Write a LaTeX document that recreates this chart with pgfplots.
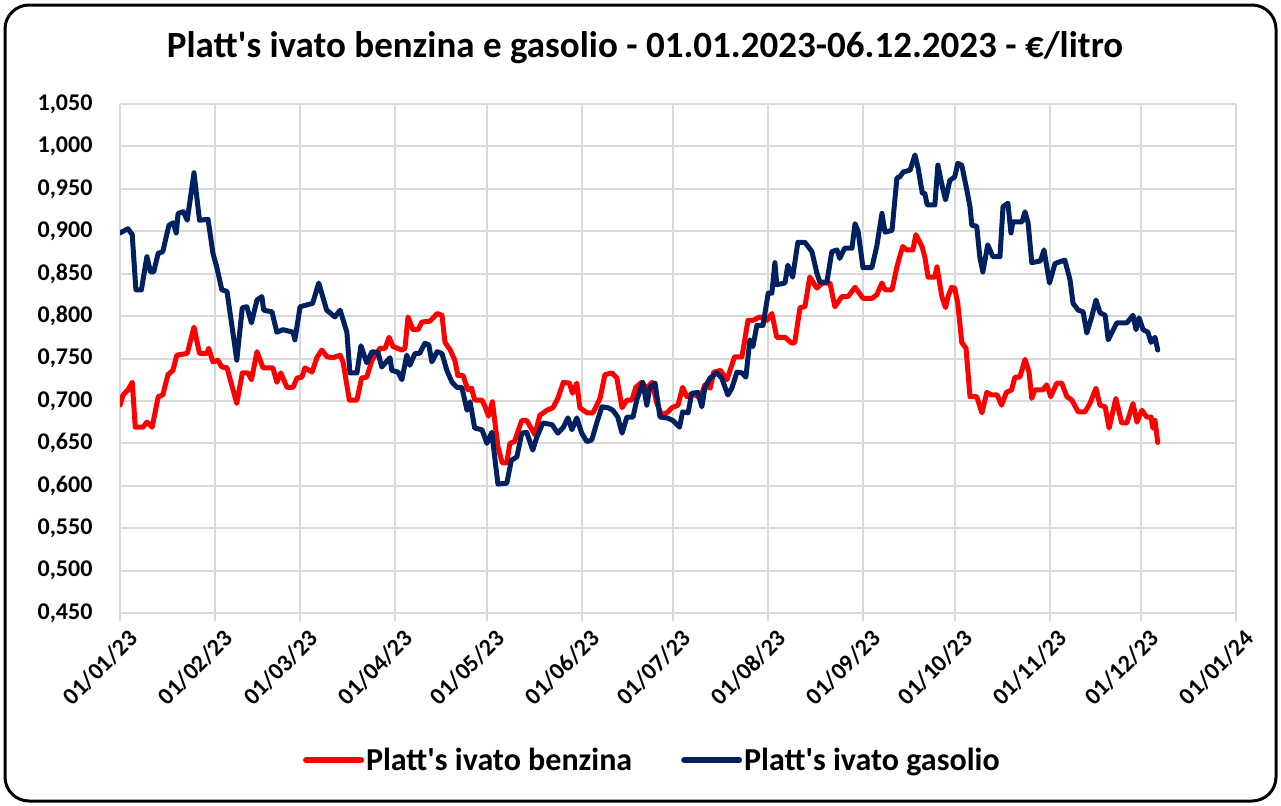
\documentclass[border=0pt]{standalone}
\usepackage{fontspec}
\setmainfont{Carlito}[Ligatures=TeXOff]
\usepackage{pgfplots}
\pgfplotsset{compat=1.18}
\definecolor{benz}{RGB}{255,0,0}
\definecolor{gaso}{RGB}{0,32,96}
\definecolor{gridc}{RGB}{217,217,217}
\newcommand\fs[1]{\fontsize{#1bp}{#1bp}\selectfont\bfseries}
\begin{document}
\begin{tikzpicture}
\useasboundingbox (0bp,0bp) rectangle (1281bp,-806bp);
\draw[line width=3bp, rounded corners=24bp] (5bp,-5bp) rectangle (1276bp,-801bp);
\node[font=\fs{37}] at (645bp,-48bp) {Platt's ivato benzina e gasolio - 01.01.2023-06.12.2023 - €/litro};
\begin{axis}[
  at={(120bp,-613bp)}, anchor=south west,
  scale only axis, width=1116bp, height=509bp,
  xmin=0, xmax=365, ymin=0.45, ymax=1.05,
  xtick={0,31,59,90,120,151,181,212,243,273,304,334,365},
  xticklabels={01/01/23,01/02/23,01/03/23,01/04/23,01/05/23,01/06/23,01/07/23,01/08/23,01/09/23,01/10/23,01/11/23,01/12/23,01/01/24},
  ytick={0.45,0.5,...,1.06},
  yticklabel style={/pgf/number format/fixed, /pgf/number format/fixed zerofill, /pgf/number format/precision=3, /pgf/number format/use comma, /pgf/number format/assume math mode=true},
  yticklabel style={font=\fs{24}, xshift=-16bp},
  xticklabel style={font=\fs{24}, rotate=45, anchor=north east, inner sep=2bp, yshift=-8bp, xshift=2bp},
  axis line style={draw=none},
  grid=major, major grid style={draw=gridc, line width=2bp},
  xtick pos=lower, ytick pos=left,
  tick align=outside, major tick length=8bp,
  xtick style={draw=gridc, line width=2bp}, ytick style={draw=none},
  legend columns=2,
  legend style={at={(0.477,-0.289)}, anchor=center, draw=none, fill=none, font=\fs{32},
    /tikz/every even column/.append style={column sep=47bp}},
  legend image code/.code={\draw[#1, line width=6bp] (0bp,0bp) -- (55bp,0bp);},
  every axis plot/.append style={line width=5bp, line join=round, line cap=round},
]
\addplot[benz, mark=none] coordinates {
(0,0.695)(1,0.707)(2.6,0.713)(4,0.722)(5,0.669)(7.5,0.669)(8.8,0.675)(10.5,0.669)(12.5,0.705)(14,0.707)
(15.7,0.731)(17.3,0.736)(18.6,0.754)(22,0.756)(24.2,0.787)(26,0.756)(28.4,0.756)(29,0.762)(30.4,0.746)(32,0.748)
(33.3,0.740)(35,0.739)(38.2,0.697)(40,0.733)(41.9,0.733)(43,0.725)(44.8,0.758)(46.8,0.739)(50,0.739)(51.3,0.722)
(52.6,0.733)(54.6,0.716)(56.6,0.716)(57.9,0.727)(59.5,0.728)(60.5,0.739)(62.8,0.734)(64.4,0.751)(66,0.760)(67.7,0.752)
(69.7,0.751)(72,0.754)(73,0.745)(75,0.701)(77.5,0.701)(79,0.727)(80.7,0.728)(82.4,0.748)(85,0.762)(86.7,0.762)
(88,0.775)(89.3,0.764)(92.2,0.760)(93.2,0.762)(94.2,0.799)(95.8,0.784)(97.5,0.784)(98.7,0.793)(101.4,0.794)(103.7,0.803)
(105.3,0.801)(106.3,0.769)(108,0.760)(109.5,0.748)(110.5,0.730)(112.2,0.730)(113.8,0.713)(115,0.715)(116,0.701)(118.4,0.701)
(119.4,0.693)(120.5,0.682)(121.8,0.699)(123.6,0.646)(125,0.627)(126.5,0.627)(127.5,0.650)(129,0.652)(131.4,0.677)(133,0.677)
(135.7,0.660)(137.3,0.683)(139.6,0.689)(141.6,0.692)(143.2,0.703)(145,0.722)(147,0.721)(148,0.709)(149.4,0.721)(150.4,0.692)
(152.7,0.686)(154.7,0.686)(157,0.703)(158.6,0.731)(160.9,0.733)(162.5,0.727)(164.2,0.692)(165.8,0.701)(167.4,0.701)(168.7,0.716)
(170.6,0.722)(172.3,0.715)(174,0.722)(175.6,0.697)(177.2,0.683)(179.2,0.687)(180.5,0.692)(182.5,0.695)(184,0.716)(185.4,0.705)
(187.4,0.709)(189.7,0.703)(191.3,0.719)(193,0.715)(194.2,0.734)(196.4,0.736)(198.5,0.725)(201,0.752)(203.4,0.752)(205.4,0.795)
(207,0.795)(209.3,0.799)(211.6,0.795)(213.2,0.803)(214.8,0.775)(217.5,0.775)(219.7,0.768)(220.7,0.769)(222.4,0.810)(224,0.811)
(225.6,0.846)(227.9,0.833)(229.8,0.839)(232.2,0.839)(233.8,0.811)(236.1,0.823)(238.1,0.823)(240.4,0.834)(243,0.821)(246,0.821)
(247.5,0.825)(249.2,0.839)(250.2,0.831)(252.5,0.831)(254.1,0.858)(255,0.870)(256,0.882)(257.3,0.878)(259.3,0.878)(260.3,0.896)
(262.3,0.882)(263.2,0.870)(264.3,0.846)(266.5,0.846)(267.2,0.858)(268.8,0.823)(270,0.810)(270.8,0.823)(272,0.834)(273,0.833)
(274,0.815)(275.3,0.769)(276.7,0.762)(278,0.705)(280.2,0.705)(281.9,0.686)(283.5,0.710)(285.1,0.707)(286.9,0.707)(288.3,0.695)
(289.9,0.710)(291.6,0.713)(292.7,0.728)(294.3,0.728)(296,0.749)(297.3,0.734)(298.2,0.703)(299.2,0.713)(301.8,0.713)(303.1,0.719)
(304.4,0.705)(306.4,0.721)(308,0.721)(309.7,0.705)(311.3,0.701)(313.4,0.687)(315.6,0.687)(317.2,0.697)(319.2,0.715)(320.5,0.695)
(322.2,0.693)(323.5,0.668)(325.7,0.703)(327.6,0.674)(329.3,0.674)(331.3,0.697)(332.6,0.675)(334.2,0.689)(335.8,0.681)(337.2,0.681)
(337.8,0.668)(338.5,0.677)(339.4,0.651)
};
\addlegendentry{Platt's ivato benzina}
\addplot[gaso, mark=none] coordinates {
(0,0.898)(2.6,0.903)(4,0.896)(5.2,0.831)(7,0.831)(8.8,0.870)(10,0.852)(11,0.852)(12.5,0.874)(14,0.876)
(16,0.907)(17.4,0.910)(18.4,0.898)(19,0.921)(20.7,0.923)(22,0.913)(24.2,0.969)(26,0.913)(28.8,0.914)(30.4,0.874)
(31.7,0.857)(33.3,0.831)(35,0.829)(38.2,0.748)(40,0.810)(41.5,0.811)(43,0.792)(44.8,0.819)(46.4,0.823)(47,0.807)
(49.7,0.805)(51.3,0.781)(53.3,0.784)(56.6,0.781)(57.2,0.772)(58.9,0.811)(63,0.815)(65,0.839)(67.6,0.807)(70.3,0.799)
(72,0.807)(74.2,0.781)(75.2,0.733)(77.5,0.733)(78.8,0.765)(80.7,0.745)(82.4,0.758)(84.4,0.757)(85.6,0.740)(88.3,0.751)
(88.9,0.736)(90.9,0.734)(92.2,0.725)(93.8,0.754)(94.8,0.742)(96.5,0.756)(98,0.756)(99.7,0.768)(101,0.766)(102,0.746)
(103.7,0.758)(105.3,0.756)(106.9,0.736)(108.6,0.722)(110.2,0.716)(111.8,0.716)(113.5,0.689)(114.5,0.699)(116,0.668)(118.4,0.666)
(120,0.650)(121.6,0.663)(123.6,0.602)(126.5,0.603)(128,0.630)(129.8,0.634)(131.4,0.662)(133,0.663)(135,0.642)(136.3,0.657)
(138.3,0.674)(141.3,0.672)(143.2,0.662)(145,0.669)(146.5,0.680)(147.8,0.666)(149.4,0.680)(151,0.662)(152.7,0.652)(154.3,0.654)
(156,0.675)(157.6,0.693)(159.6,0.692)(161.2,0.689)(162.8,0.681)(164.2,0.662)(165.8,0.681)(167.8,0.681)(169,0.701)(171,0.722)
(172.3,0.695)(173.3,0.716)(175,0.721)(176.6,0.681)(178.9,0.680)(180.8,0.677)(183,0.669)(184,0.687)(185.8,0.686)(187,0.709)
(189,0.710)(190.3,0.693)(191.3,0.716)(193,0.727)(195.2,0.733)(196.8,0.727)(198.8,0.707)(200.1,0.715)(201.8,0.734)(203.4,0.733)
(204.7,0.728)(206,0.772)(207,0.764)(208.3,0.789)(210.3,0.789)(212,0.827)(213.2,0.827)(214.2,0.863)(214.8,0.837)(217.5,0.839)
(218.4,0.860)(220,0.846)(221.7,0.887)(224,0.887)(226.3,0.876)(227.9,0.851)(228.9,0.840)(231.2,0.840)(232.8,0.876)(234.5,0.878)
(235.4,0.868)(237,0.880)(239.4,0.880)(240.4,0.909)(241.4,0.900)(243,0.857)(245.9,0.857)(247.5,0.882)(249.2,0.921)(250.2,0.899)
(252.5,0.901)(254.1,0.963)(255,0.964)(256.2,0.970)(258.4,0.972)(260,0.990)(261,0.975)(262.4,0.945)(263.2,0.945)(264,0.931)
(266.5,0.931)(267.5,0.978)(268.8,0.955)(270,0.937)(271.4,0.960)(273,0.964)(274,0.980)(275.3,0.978)(277,0.948)(278,0.929)
(278.6,0.907)(280.2,0.906)(281.2,0.870)(282.2,0.852)(283.8,0.884)(285.5,0.870)(287.8,0.870)(288.8,0.929)(290.4,0.933)(291.4,0.898)
(292,0.911)(295,0.911)(296,0.923)(297,0.910)(298.2,0.863)(301,0.865)(302.2,0.878)(304,0.839)(305.8,0.862)(309,0.866)
(310.7,0.843)(311.7,0.815)(313.4,0.807)(315,0.805)(316.2,0.780)(317.8,0.799)(319.2,0.819)(320.5,0.804)(322.2,0.801)(323.2,0.772)
(326,0.792)(329.3,0.792)(331.3,0.801)(332.3,0.784)(333.3,0.798)(334.6,0.784)(336.2,0.781)(337.2,0.769)(338.5,0.775)(339.4,0.760)
};
\addlegendentry{Platt's ivato gasolio}
\end{axis}
\end{tikzpicture}
\end{document}
